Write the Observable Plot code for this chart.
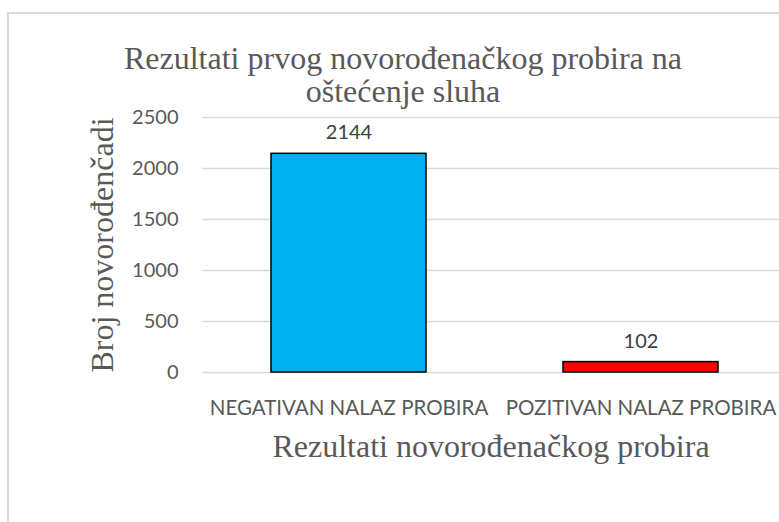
<!DOCTYPE html>
<html>
<head>
<meta charset="utf-8">
<script src="https://cdn.jsdelivr.net/npm/d3@7"></script>
<script src="https://cdn.jsdelivr.net/npm/@observablehq/plot@0.6"></script>
<style>
  html, body { margin: 0; padding: 0; background: #fff; width: 779px; height: 522px; overflow: hidden; }
  #frame { position: absolute; left: 7px; top: 12px; width: 900px; height: 600px; border: 2px solid #d9d9d9; box-sizing: border-box; pointer-events: none; }
  #title { position: relative; width: 790px; margin-left: 8px; height: 105px; box-sizing: border-box; padding-top: 42px;
           text-align: center; font-family: "Liberation Serif", serif; font-size: 32px; line-height: 33px; color: #595959; }
  #chart { position: relative; }
</style>
</head>
<body>
<div id="frame"></div>
<div id="title">Rezultati prvog novorođenačkog probira na<br>oštećenje sluha</div>
<div id="chart"></div>
<script>
const categories = ["NEGATIVAN NALAZ PROBIRA", "POZITIVAN NALAZ PROBIRA"];
const values = [2144, 102];
const barColors = ["#00B0F0", "#FF0000"];
const yTicks = [0, 500, 1000, 1500, 2000, 2500];
const yLabel = "Broj novorođenčadi";
const xLabel = "Rezultati novorođenačkog probira";

const data = categories.map((c, i) => ({category: c, value: values[i], color: barColors[i]}));

const sans = "Lato, 'Open Sans', sans-serif";
const serif = "'Liberation Serif', serif";

const chart = Plot.plot({
  width: 779,
  height: 417,
  marginTop: 12,
  marginBottom: 150,
  marginLeft: 202,
  marginRight: 0,
  style: {background: "transparent", fontFamily: sans, overflow: "visible"},
  x: {domain: categories, range: [202, 786], paddingInner: 0.47, paddingOuter: 0.235, label: null},
  y: {domain: [0, 2500], label: null},
  marks: [
    Plot.ruleY(yTicks, {stroke: "#d9d9d9", strokeWidth: 1.5}),
    Plot.barY(data, {x: "category", y: "value", fill: "color", stroke: "#000", strokeWidth: 1.5}),
    Plot.text(data, {x: "category", y: "value", text: d => String(d.value), dy: -21, fontSize: 20, fill: "#404040", fontFamily: sans}),
    Plot.axisY(yTicks, {tickSize: 0, tickPadding: 24, fontSize: 20, color: "#595959", fontFamily: sans, label: null, tickFormat: d => String(d)}),
    Plot.axisX({tickSize: 0, tickPadding: 28, fontSize: 20.5, color: "#595959", fontFamily: sans, label: null}),
    Plot.text([xLabel], {frameAnchor: "bottom", dy: 84, fontSize: 32, fill: "#595959", fontFamily: serif}),
    Plot.text([yLabel], {frameAnchor: "left", textAnchor: "middle", dx: -100, rotate: -90, fontSize: 32, fill: "#595959", fontFamily: serif})
  ]
});
document.getElementById("chart").appendChild(chart);
</script>
</body>
</html>
